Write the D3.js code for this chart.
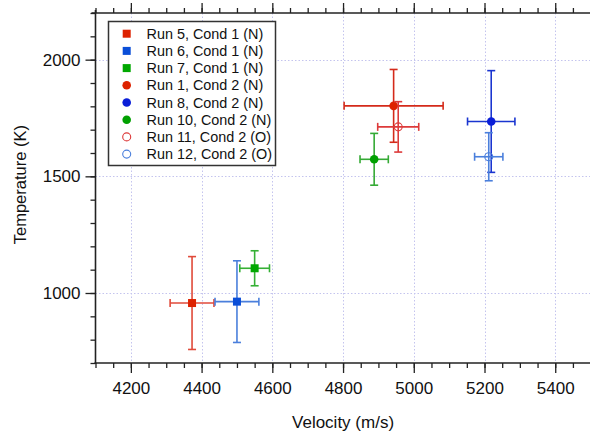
<!DOCTYPE html>
<html>
<head>
<meta charset="utf-8">
<script src="https://cdn.jsdelivr.net/npm/d3@7"></script>
<style>
  html, body { margin: 0; padding: 0; background: #fff; }
  svg { display: block; font-family: "Liberation Sans", Arial, sans-serif; }
</style>
</head>
<body>
<svg id="chart" width="590" height="433"></svg>
<script>
// Run labels shown in the legend, in drawing order
const runs = [
  "Run 5, Cond 1 (N)", "Run 6, Cond 1 (N)", "Run 7, Cond 1 (N)",
  "Run 1, Cond 2 (N)", "Run 8, Cond 2 (N)", "Run 10, Cond 2 (N)",
  "Run 11, Cond 2 (O)", "Run 12, Cond 2 (O)"
];
// Measured velocity (m/s) and its uncertainty
const velocity    = [4373, 4500, 4550, 4943, 5219, 4888, 4956, 5212];
const velocityErr = [  62,   62,   42,  140,   67,   40,   58,   40];
// Measured temperature (K) and its uncertainty
const temperature    = [ 957,  963, 1106, 1802, 1735, 1573, 1712, 1584];
const temperatureErr = [ 199,  175,   75,  156,  218,  111,  108,  103];
// Marker shape per run
const shapes = ["square", "square", "square", "circle", "circle", "circle", "open", "open"];
// Marker and error-bar colours per run
const markerColors = ["#dd2200", "#0a4ed8", "#00a800", "#dd2200", "#0a1ed8", "#00a000", "#dd3a3a", "#4a7fdc"];
const errorColors  = ["#e04a3a", "#4a7fdc", "#35b035", "#d42a1a", "#1a35d0", "#35aa35", "#dd3a3a", "#4a7fdc"];
// Axis tick values
const xMajorTicks = [4200, 4400, 4600, 4800, 5000, 5200, 5400];
const yMajorTicks = [1000, 1500, 2000];

const svg = d3.select("#chart");

const x = d3.scaleLinear().domain([4100, 5500]).range([95.5, 590.6]);
const y = d3.scaleLinear().domain([700, 2200]).range([363, 13]);

const xMinor = d3.range(4100, 5501, 50);
const yMinor = d3.range(700, 2201, 100);

// Dotted grid at the major ticks
const grid = svg.append("g").attr("stroke", "#c4c4ee").attr("stroke-width", 1)
  .attr("stroke-dasharray", "1.5,2");
grid.selectAll("line.gx").data(xMajorTicks).join("line").attr("class", "gx")
  .attr("x1", d => Math.round(x(d)) + 0.5).attr("x2", d => Math.round(x(d)) + 0.5)
  .attr("y1", y(2200)).attr("y2", y(700));
grid.selectAll("line.gy").data(yMajorTicks).join("line").attr("class", "gy")
  .attr("y1", d => Math.round(y(d)) + 0.5).attr("y2", d => Math.round(y(d)) + 0.5)
  .attr("x1", x(4100)).attr("x2", 590);

// Bottom axis: minor ticks every 50, labelled majors every 200
const axBottomMinor = svg.append("g").attr("transform", `translate(0,${y(700)})`)
  .call(d3.axisBottom(x).tickValues(xMinor).tickSize(5).tickFormat(""));
const axBottomMajor = svg.append("g").attr("transform", `translate(0,${y(700)})`)
  .call(d3.axisBottom(x).tickValues(xMajorTicks).tickSize(10)
    .tickFormat(d3.format("d")).tickPadding(9));

// Top axis mirrors the ticks, unlabelled
const axTopMinor = svg.append("g").attr("transform", `translate(0,${y(2200)})`)
  .call(d3.axisTop(x).tickValues(xMinor).tickSize(5).tickFormat(""));
const axTopMajor = svg.append("g").attr("transform", `translate(0,${y(2200)})`)
  .call(d3.axisTop(x).tickValues(xMajorTicks).tickSize(10).tickFormat(""));

// Left axis: minor ticks every 100, labelled majors every 500
const axLeftMinor = svg.append("g").attr("transform", `translate(${x(4100)},0)`)
  .call(d3.axisLeft(y).tickValues(yMinor).tickSize(5).tickFormat(""));
const axLeftMajor = svg.append("g").attr("transform", `translate(${x(4100)},0)`)
  .call(d3.axisLeft(y).tickValues(yMajorTicks).tickSize(10)
    .tickFormat(d3.format("d")).tickPadding(5));

[axBottomMajor, axTopMajor, axLeftMajor].forEach(g => g.select(".domain").remove());
svg.selectAll(".domain").attr("stroke", "#222").attr("stroke-width", 1.6);
svg.selectAll(".tick line").attr("stroke", "#222").attr("stroke-width", 1.3);
svg.selectAll(".tick text").attr("fill", "#111").style("font-size", "17px");
// Axis lines overshoot slightly at the corner
axBottomMinor.select(".domain").attr("d", `M${x(4100) - 1},0H590`);
axTopMinor.select(".domain").attr("d", `M${x(4100) - 4},0H590`);
axLeftMinor.select(".domain").attr("d", `M0,${y(700) + 1}V${y(2200) - 3}`);

// Axis titles
svg.append("text").attr("x", x(4800)).attr("y", 428).attr("text-anchor", "middle")
  .style("font-size", "17px").attr("fill", "#111").text("Velocity (m/s)");
svg.append("text").attr("transform", `translate(26,${(y(1500) + y(1000)) / 2 - 50}) rotate(-90)`)
  .attr("text-anchor", "middle").style("font-size", "16.5px").attr("fill", "#111")
  .text("Temperature (K)");

const data = runs.map((name, i) => ({
  name, vx: velocity[i], dvx: velocityErr[i], t: temperature[i], dt: temperatureErr[i],
  shape: shapes[i], color: markerColors[i], ecolor: errorColors[i]
}));

function drawMarker(g, shape, color, cx, cy) {
  if (shape === "square") {
    g.append("rect").attr("x", cx - 4).attr("y", cy - 4).attr("width", 8).attr("height", 8)
      .attr("fill", color);
  } else if (shape === "circle") {
    g.append("circle").attr("cx", cx).attr("cy", cy).attr("r", 4.3).attr("fill", color);
  } else {
    g.append("circle").attr("cx", cx).attr("cy", cy).attr("r", 4)
      .attr("fill", "none").attr("stroke", color).attr("stroke-width", 1.1);
  }
}

// Error bars with caps, then markers
const cap = 4;
const pts = svg.append("g");
data.forEach(d => {
  const g = pts.append("g");
  const cx = x(d.vx), cy = y(d.t);
  const x0 = x(d.vx - d.dvx), x1 = x(d.vx + d.dvx);
  const y0 = y(d.t - d.dt), y1 = y(d.t + d.dt);
  const e = g.append("g").attr("stroke", d.ecolor).attr("stroke-width", 1.6).attr("fill", "none");
  e.append("line").attr("x1", x0).attr("x2", x1).attr("y1", cy).attr("y2", cy);
  e.append("line").attr("x1", cx).attr("x2", cx).attr("y1", y0).attr("y2", y1);
  e.append("line").attr("x1", x0).attr("x2", x0).attr("y1", cy - cap).attr("y2", cy + cap);
  e.append("line").attr("x1", x1).attr("x2", x1).attr("y1", cy - cap).attr("y2", cy + cap);
  e.append("line").attr("x1", cx - cap).attr("x2", cx + cap).attr("y1", y0).attr("y2", y0);
  e.append("line").attr("x1", cx - cap).attr("x2", cx + cap).attr("y1", y1).attr("y2", y1);
  drawMarker(g, d.shape, d.color, cx, cy);
});

// Legend
const legend = svg.append("g");
legend.append("rect").attr("x", 108.5).attr("y", 21.5).attr("width", 167).attr("height", 144)
  .attr("fill", "#fff").attr("stroke", "#333").attr("stroke-width", 1.5);
data.forEach((d, i) => {
  const ry = 33.7 + i * 17.2;
  drawMarker(legend, d.shape, d.color, 126.7, ry);
  legend.append("text").attr("x", 146.5).attr("y", ry + 5).style("font-size", "14.4px")
    .attr("fill", "#111").text(d.name);
});
</script>
</body>
</html>
